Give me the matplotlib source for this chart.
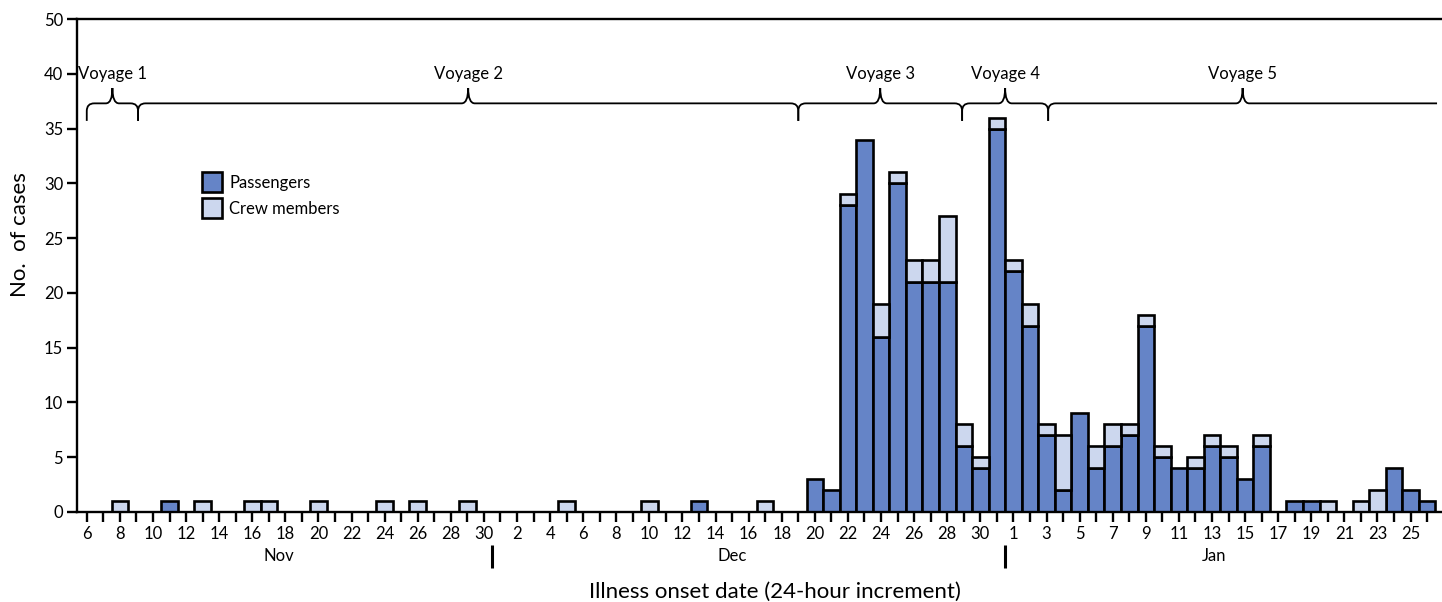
import numpy as np
import pandas as pd
import matplotlib
matplotlib.use("Agg")
import matplotlib.pyplot as plt
from matplotlib.path import Path
from matplotlib.patches import PathPatch

plt.rcParams["font.family"] = ["Lato", "DejaVu Sans"]

# === Data: illness onset per day, Nov 6 -> Jan 26 ===
start_date = "2012-11-06"
end_date = "2013-01-26"

passengers_nov = [0, 0, 0, 0, 0, 1, 0, 0, 0, 0, 0, 0, 0, 0, 0, 0, 0, 0, 0, 0, 0, 0, 0, 0, 0]
crew_nov = [0, 0, 1, 0, 0, 0, 0, 1, 0, 0, 1, 1, 0, 0, 1, 0, 0, 0, 1, 0, 1, 0, 0, 1, 0]

passengers_dec = [0, 0, 0, 0, 0, 0, 0, 0, 0, 0, 0, 0, 1, 0, 0, 0, 0, 0, 0,
                  3, 2, 28, 34, 16, 30, 21, 21, 21, 6, 4, 35]
crew_dec = [0, 0, 0, 0, 1, 0, 0, 0, 0, 1, 0, 0, 0, 0, 0, 0, 1, 0, 0, 0, 0,
            1, 0, 3, 1, 2, 2, 6, 2, 1, 1]

passengers_jan = [22, 17, 7, 2, 9, 4, 6, 7, 17, 5, 4, 4, 6, 5, 3, 6, 0, 1, 1, 0, 0, 0, 0, 4, 2, 1]
crew_jan = [1, 2, 1, 5, 0, 2, 2, 1, 1, 1, 0, 1, 1, 1, 0, 1, 0, 0, 0, 1, 0, 1, 2, 0, 0, 0]

passengers = np.array(passengers_nov + passengers_dec + passengers_jan)
crew = np.array(crew_nov + crew_dec + crew_jan)

# voyage start/end, in days since Nov 6
voyage_labels = ["Voyage 1", "Voyage 2", "Voyage 3", "Voyage 4", "Voyage 5"]
voyage_bounds = [0.0, 3.1, 43.0, 52.9, 58.1, 81.6]

month_labels = ["Nov", "Dec", "Jan"]

y_ticks = [0, 5, 10, 15, 20, 25, 30, 35, 40, 45]
y_tick_labels = ["0", "5", "10", "15", "20", "25", "30", "35", "40", "50"]

# === Setup ===
dates = pd.date_range(start_date, end_date)
x = np.arange(len(dates))

col_pass = "#6584C7"
col_crew = "#CCD7EE"
fs = 12

fig = plt.figure(figsize=(14.42, 6.02), dpi=100)
ax = fig.add_axes([77 / 1442, 1 - 512 / 602, 1 - 77 / 1442, (512 - 19) / 602])

# === Bars ===
mp = passengers > 0
mc = crew > 0
bp = ax.bar(x[mp], passengers[mp], width=1.0, color=col_pass, edgecolor="black",
            linewidth=1.9, label="Passengers")
bc = ax.bar(x[mc], crew[mc], bottom=passengers[mc], width=1.0, color=col_crew,
            edgecolor="black", linewidth=1.9, label="Crew members")

ax.set_xlim(-0.59, 81.9)
ax.set_ylim(0, 45)

# === Axes styling ===
for s in ["left", "top", "bottom"]:
    ax.spines[s].set_linewidth(1.7)
ax.spines["right"].set_visible(False)

ax.set_yticks(y_ticks)
ax.set_yticklabels(y_tick_labels, fontsize=fs)
ax.tick_params(axis="y", length=7, width=1.7, pad=3)

ax.set_xticks(x)
ax.set_xticklabels([str(d.day) if i % 2 == 0 else "" for i, d in enumerate(dates)], fontsize=fs)
ax.tick_params(axis="x", length=7, width=1.7, pad=3)

# month labels and separators
month_pos = [11.6, 39.0, 68.1]
for lab, mx in zip(month_labels, month_pos):
    ax.text(mx, -0.089, lab, transform=ax.get_xaxis_transform(), ha="center", va="center",
            fontsize=fs)
month_ends = [i - 0.5 for i in range(1, len(dates)) if dates[i].month != dates[i - 1].month]
for me in month_ends:
    ax.plot([me, me], [-0.067, -0.114], transform=ax.get_xaxis_transform(), color="black",
            linewidth=2.2, clip_on=False, solid_capstyle="butt")

ax.text(0.511, -0.162, "Illness onset date (24-hour increment)", transform=ax.transAxes,
        ha="center", va="center", fontsize=16)
fig.text(20 / 1442, 1 - 235 / 602, "No.  of cases", rotation=90, ha="center", va="center",
         fontsize=16)

# === Voyage braces ===
y_low, y_mid, y_top = 35.7, 37.3, 38.7
rh, rv, rt = 0.45, 0.7, 0.4


def brace(x0, x1, right_hook=True):
    tip = (x0 + x1) / 2
    verts = [(x0, y_low), (x0, y_mid - rv), (x0, y_mid), (x0 + rh, y_mid),
             (tip - rt, y_mid), (tip, y_mid), (tip, y_top),
             (tip, y_mid), (tip + rt, y_mid)]
    codes = [Path.MOVETO, Path.LINETO, Path.CURVE3, Path.CURVE3,
             Path.LINETO, Path.CURVE3, Path.CURVE3,
             Path.CURVE3, Path.CURVE3]
    if right_hook:
        verts += [(x1 - rh, y_mid), (x1, y_mid), (x1, y_mid - rv), (x1, y_low)]
        codes += [Path.LINETO, Path.CURVE3, Path.CURVE3, Path.LINETO]
    else:
        verts += [(x1, y_mid)]
        codes += [Path.LINETO]
    ax.add_patch(PathPatch(Path(verts, codes), facecolor="none", edgecolor="black",
                           linewidth=1.3, clip_on=False))
    return tip


for i, lab in enumerate(voyage_labels):
    t = brace(voyage_bounds[i], voyage_bounds[i + 1], right_hook=(i < len(voyage_labels) - 1))
    ax.text(t, 40.0, lab, ha="center", va="center", fontsize=fs)

# === Legend ===
ax.legend(handles=[bp, bc], loc="upper left", bbox_to_anchor=(0.0914, 0.6897), frameon=False,
          fontsize=fs, handlelength=1.2, handleheight=1.5, handletextpad=0.45,
          labelspacing=0.35, borderpad=0, borderaxespad=0)

fig.savefig("out.png", dpi=100)
plt.close(fig)
